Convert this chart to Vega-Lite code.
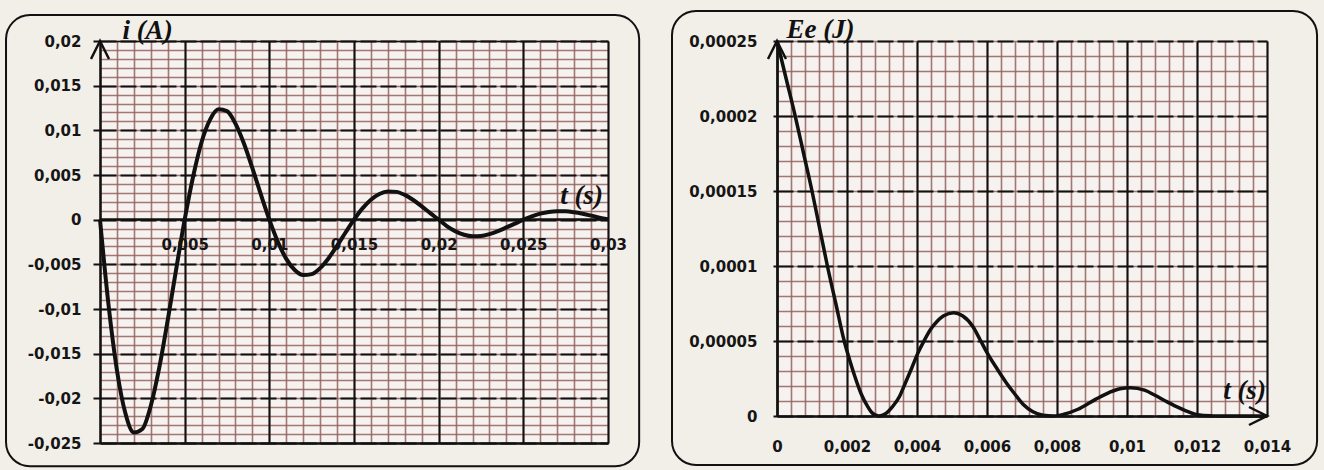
{
  "$schema": "https://vega.github.io/schema/vega-lite/v6.json",
  "background": "#f2eee8",
  "padding": {"left": 5, "top": 9, "right": 6, "bottom": 5},
  "spacing": 30,
  "config": {
    "view": {"fill": "#f6f2ef", "stroke": null},
    "locale": {"number": {"decimal": ",", "thousands": " ", "grouping": [3], "currency": ["", ""], "minus": "-"}},
    "axis": {
      "labelFont": "DejaVu Sans", "labelFontWeight": "bold", "labelFontSize": 15, "labelColor": "#151515",
      "titleFont": "Liberation Serif", "titleFontStyle": "italic", "titleFontWeight": "bold", "titleFontSize": 27, "titleColor": "#111111",
      "labelFlush": false, "labelOverlap": false
    }
  },
  "hconcat": [
    {
      "width": 508,
      "height": 402,
      "resolve": {"axis": {"x": "independent", "y": "independent"}},
      "layer": [
        {
          "data": {"values": [{}]},
          "mark": {"type": "rect", "filled": false, "stroke": "#111111", "strokeWidth": 2, "cornerRadius": 24},
          "encoding": {
            "x": {"datum": -0.00555, "type": "quantitative", "scale": {"domain": [0, 0.03], "nice": false, "zero": false},
              "axis": {"orient": "bottom", "values": [0,0.001,0.002,0.003,0.004,0.005,0.006,0.007,0.008,0.009,0.01,0.011,0.012,0.013,0.014,0.015,0.016,0.017,0.018,0.019,0.02,0.021,0.022,0.023,0.024,0.025,0.026,0.027,0.028,0.029,0.03],
                "grid": true, "gridColor": "#94625e", "gridOpacity": 0.85, "gridWidth": 1.6, "labels": false, "ticks": false, "domain": true, "domainColor": "#111111", "domainWidth": 2.5, "title": null, "zindex": 0}},
            "x2": {"datum": 0.03184},
            "y": {"datum": 0.0229, "type": "quantitative", "scale": {"domain": [-0.025, 0.02], "nice": false, "zero": false},
              "axis": {"orient": "left", "values": [-0.025,-0.024,-0.023,-0.022,-0.021,-0.02,-0.019,-0.018,-0.017,-0.016,-0.015,-0.014,-0.013,-0.012,-0.011,-0.01,-0.009,-0.008,-0.007,-0.006,-0.005,-0.004,-0.003,-0.002,-0.001,0,0.001,0.002,0.003,0.004,0.005,0.006,0.007,0.008,0.009,0.01,0.011,0.012,0.013,0.014,0.015,0.016,0.017,0.018,0.019,0.02],
                "grid": true, "gridColor": "#94625e", "gridOpacity": 0.85, "gridWidth": 1.6, "labels": false, "ticks": false, "domain": false, "title": null, "zindex": 0}},
            "y2": {"datum": -0.0276}
          }
        },
        {
          "data": {"values": [
            {"t":0,"i":0},{"t":0.0005,"i":-0.00948},{"t":0.001,"i":-0.01685},{"t":0.0015,"i":-0.02168},{"t":0.002,"i":-0.02383},
            {"t":0.0025,"i":-0.02343},{"t":0.003,"i":-0.02083},{"t":0.0035,"i":-0.01657},{"t":0.004,"i":-0.01125},{"t":0.0045,"i":-0.00553},
            {"t":0.005,"i":0},{"t":0.0055,"i":0.00483},{"t":0.006,"i":0.0087},{"t":0.0065,"i":0.0112},{"t":0.007,"i":0.01235},
            {"t":0.0075,"i":0.01215},{"t":0.008,"i":0.01075},{"t":0.0085,"i":0.00852},{"t":0.009,"i":0.00576},{"t":0.0095,"i":0.00282},
            {"t":0.01,"i":0},{"t":0.0105,"i":-0.00247},{"t":0.011,"i":-0.00439},{"t":0.0115,"i":-0.00564},{"t":0.012,"i":-0.0062},
            {"t":0.0125,"i":-0.0061},{"t":0.013,"i":-0.00542},{"t":0.0135,"i":-0.00431},{"t":0.014,"i":-0.00293},{"t":0.0145,"i":-0.00144},
            {"t":0.015,"i":0},{"t":0.0155,"i":0.00126},{"t":0.016,"i":0.00224},{"t":0.0165,"i":0.00288},{"t":0.017,"i":0.00316},
            {"t":0.0175,"i":0.00311},{"t":0.018,"i":0.00277},{"t":0.0185,"i":0.0022},{"t":0.019,"i":0.00149},{"t":0.0195,"i":0.00073},
            {"t":0.02,"i":0},{"t":0.0205,"i":-0.00074},{"t":0.021,"i":-0.00131},{"t":0.0215,"i":-0.00169},{"t":0.022,"i":-0.00186},
            {"t":0.0225,"i":-0.00183},{"t":0.023,"i":-0.00162},{"t":0.0235,"i":-0.00129},{"t":0.024,"i":-0.00087},{"t":0.0245,"i":-0.00044},
            {"t":0.025,"i":0},{"t":0.0255,"i":0.00038},{"t":0.026,"i":0.00067},{"t":0.0265,"i":0.00086},{"t":0.027,"i":0.00094},
            {"t":0.0275,"i":0.00093},{"t":0.028,"i":0.00083},{"t":0.0285,"i":0.00066},{"t":0.029,"i":0.00045},{"t":0.0295,"i":0.00022},
            {"t":0.03,"i":0.00005}
          ]},
          "mark": {"type": "line", "color": "#111111", "strokeWidth": 4, "interpolate": "monotone"},
          "encoding": {
            "x": {"field": "t", "type": "quantitative", "scale": {"domain": [0, 0.03], "nice": false, "zero": false},
              "axis": {"orient": "bottom", "offset": -224, "values": [0,0.005,0.01,0.015,0.02,0.025,0.03], "format": ".3~f",
                "labelExpr": "datum.value == 0 ? '' : datum.label",
                "grid": false, "ticks": false, "tickSize": 0, "labelPadding": 18, "domain": true, "domainColor": "#111111", "domainWidth": 2.5,
                "title": "t (s)", "titleX": 481, "titleY": -16, "titleAlign": "center", "titleBaseline": "alphabetic", "zindex": 1}},
            "y": {"field": "i", "type": "quantitative", "scale": {"domain": [-0.025, 0.02], "nice": false, "zero": false},
              "axis": {"orient": "left", "values": [-0.025,-0.02,-0.015,-0.01,-0.005,0,0.005,0.01,0.015,0.02], "format": ".3~f",
                "grid": true, "gridColor": "#111111", "gridWidth": 2, "gridDash": [16, 4],
                "ticks": true, "tickSize": 7, "tickColor": "#111111", "tickWidth": 2, "labelPadding": 12,
                "domain": true, "domainColor": "#111111", "domainWidth": 2.5,
                "title": "i (A)", "titleAngle": 0, "titleX": 47, "titleY": -3, "titleAlign": "center", "titleBaseline": "alphabetic", "zindex": 1}}
          }
        },
        {
          "data": {"values": [{}]},
          "mark": {"type": "point", "shape": "M-1,2L0,0L1,2", "size": 324, "filled": false, "stroke": "#111111", "strokeWidth": 2.5, "opacity": 1},
          "encoding": {
            "x": {"datum": 0, "type": "quantitative", "scale": {"domain": [0, 0.03], "nice": false, "zero": false},
              "axis": {"orient": "top", "values": [0.005,0.01,0.015,0.02,0.025,0.03], "grid": true, "gridColor": "#111111", "gridWidth": 2,
                "labels": false, "ticks": false, "domain": true, "domainColor": "#111111", "domainWidth": 1.5, "title": null, "zindex": 1}},
            "y": {"datum": 0.02, "type": "quantitative", "scale": {"domain": [-0.025, 0.02], "nice": false, "zero": false}, "axis": null}
          }
        }
      ]
    },
    {
      "width": 490,
      "height": 375,
      "resolve": {"axis": {"x": "independent", "y": "independent"}},
      "layer": [
        {
          "data": {"values": [{}]},
          "mark": {"type": "rect", "filled": false, "stroke": "#111111", "strokeWidth": 2, "cornerRadius": 24},
          "encoding": {
            "x": {"datum": -0.003, "type": "quantitative", "scale": {"domain": [0, 0.014], "nice": false, "zero": false},
              "axis": {"orient": "bottom", "values": [0,0.0004,0.0008,0.0012,0.0016,0.002,0.0024,0.0028,0.0032,0.0036,0.004,0.0044,0.0048,0.0052,0.0056,0.006,0.0064,0.0068,0.0072,0.0076,0.008,0.0084,0.0088,0.0092,0.0096,0.01,0.0104,0.0108,0.0112,0.0116,0.012,0.0124,0.0128,0.0132,0.0136,0.014],
                "grid": true, "gridColor": "#94625e", "gridOpacity": 0.85, "gridWidth": 1.6, "labels": false, "ticks": false, "domain": false, "title": null, "zindex": 0}},
            "x2": {"datum": 0.01543},
            "y": {"datum": 0.00027, "type": "quantitative", "scale": {"domain": [0, 0.00025], "nice": false, "zero": false},
              "axis": {"orient": "left", "values": [0,0.00001,0.00002,0.00003,0.00004,0.00005,0.00006,0.00007,0.00008,0.00009,0.0001,0.00011,0.00012,0.00013,0.00014,0.00015,0.00016,0.00017,0.00018,0.00019,0.0002,0.00021,0.00022,0.00023,0.00024,0.00025],
                "grid": true, "gridColor": "#94625e", "gridOpacity": 0.85, "gridWidth": 1.6, "labels": false, "ticks": false, "domain": false, "title": null, "zindex": 0}},
            "y2": {"datum": -0.0000327}
          }
        },
        {
          "data": {"values": [
            {"t":0,"Ee":0.00025},{"t":0.00026,"Ee":0.000225},{"t":0.00052,"Ee":0.0002},{"t":0.00076,"Ee":0.000175},{"t":0.001,"Ee":0.00015},
            {"t":0.00122,"Ee":0.000125},{"t":0.00144,"Ee":0.0001},{"t":0.00168,"Ee":0.000075},{"t":0.00192,"Ee":0.00005},{"t":0.00208,"Ee":0.000037},
            {"t":0.00222,"Ee":0.0000267},{"t":0.0024,"Ee":0.000015},{"t":0.00258,"Ee":0.0000067},{"t":0.0027,"Ee":0.0000025},{"t":0.0029,"Ee":0},
            {"t":0.0031,"Ee":0.0000015},{"t":0.0033,"Ee":0.0000062},{"t":0.0035,"Ee":0.000013},{"t":0.00367,"Ee":0.0000222},{"t":0.00385,"Ee":0.000032},
            {"t":0.00403,"Ee":0.0000422},{"t":0.0042,"Ee":0.00005},{"t":0.00439,"Ee":0.0000578},{"t":0.00457,"Ee":0.000063},{"t":0.00475,"Ee":0.0000667},
            {"t":0.00505,"Ee":0.0000689},{"t":0.0053,"Ee":0.0000668},{"t":0.0056,"Ee":0.0000595},{"t":0.0058,"Ee":0.000051},{"t":0.006,"Ee":0.0000422},
            {"t":0.0063,"Ee":0.000031},{"t":0.00655,"Ee":0.0000222},{"t":0.0068,"Ee":0.0000145},{"t":0.00703,"Ee":0.0000078},{"t":0.0073,"Ee":0.000003},
            {"t":0.0076,"Ee":0.0000005},{"t":0.0079,"Ee":0},{"t":0.0082,"Ee":0.0000012},{"t":0.0086,"Ee":0.0000045},{"t":0.0091,"Ee":0.0000111},
            {"t":0.0095,"Ee":0.0000158},{"t":0.0098,"Ee":0.0000182},{"t":0.0101,"Ee":0.0000189},{"t":0.0105,"Ee":0.0000172},{"t":0.0108,"Ee":0.0000138},
            {"t":0.0111,"Ee":0.00001},{"t":0.0114,"Ee":0.0000064},{"t":0.0117,"Ee":0.0000033},{"t":0.012,"Ee":0.0000009},{"t":0.0124,"Ee":0.0000001},
            {"t":0.0129,"Ee":0},{"t":0.014,"Ee":0}
          ]},
          "mark": {"type": "line", "color": "#111111", "strokeWidth": 3.5, "interpolate": "monotone"},
          "encoding": {
            "x": {"field": "t", "type": "quantitative", "scale": {"domain": [0, 0.014], "nice": false, "zero": false},
              "axis": {"orient": "bottom", "values": [0,0.002,0.004,0.006,0.008,0.01,0.012,0.014], "format": ".3~f",
                "grid": true, "gridColor": "#111111", "gridWidth": 2,
                "ticks": false, "tickSize": 0, "labelPadding": 23, "domain": true, "domainColor": "#111111", "domainWidth": 2.5,
                "title": "t (s)", "titleX": 467, "titleY": -18, "titleAlign": "center", "titleBaseline": "alphabetic", "zindex": 1}},
            "y": {"field": "Ee", "type": "quantitative", "scale": {"domain": [0, 0.00025], "nice": false, "zero": false},
              "axis": {"orient": "left", "values": [0,0.00005,0.0001,0.00015,0.0002,0.00025], "format": ".5~f",
                "grid": true, "gridColor": "#111111", "gridWidth": 2, "gridDash": [16, 4],
                "ticks": true, "tickSize": 4, "tickColor": "#111111", "tickWidth": 2, "labelPadding": 16,
                "domain": true, "domainColor": "#111111", "domainWidth": 2.5,
                "title": "Ee (J)", "titleAngle": 0, "titleX": 43, "titleY": -4, "titleAlign": "center", "titleBaseline": "alphabetic", "zindex": 1}}
          }
        },
        {
          "data": {"values": [{}]},
          "mark": {"type": "point", "shape": "M-1,2L0,0L1,2", "size": 324, "filled": false, "stroke": "#111111", "strokeWidth": 2.5, "opacity": 1},
          "encoding": {
            "x": {"datum": 0, "type": "quantitative", "scale": {"domain": [0, 0.014], "nice": false, "zero": false}, "axis": null},
            "y": {"datum": 0.00025, "type": "quantitative", "scale": {"domain": [0, 0.00025], "nice": false, "zero": false}, "axis": null}
          }
        },
        {
          "data": {"values": [{}]},
          "mark": {"type": "point", "shape": "M-2,-1L0,0L-2,1", "size": 324, "filled": false, "stroke": "#111111", "strokeWidth": 2.5, "opacity": 1},
          "encoding": {
            "x": {"datum": 0.014, "type": "quantitative", "scale": {"domain": [0, 0.014], "nice": false, "zero": false}, "axis": null},
            "y": {"datum": 0, "type": "quantitative", "scale": {"domain": [0, 0.00025], "nice": false, "zero": false}, "axis": null}
          }
        }
      ]
    }
  ]
}
